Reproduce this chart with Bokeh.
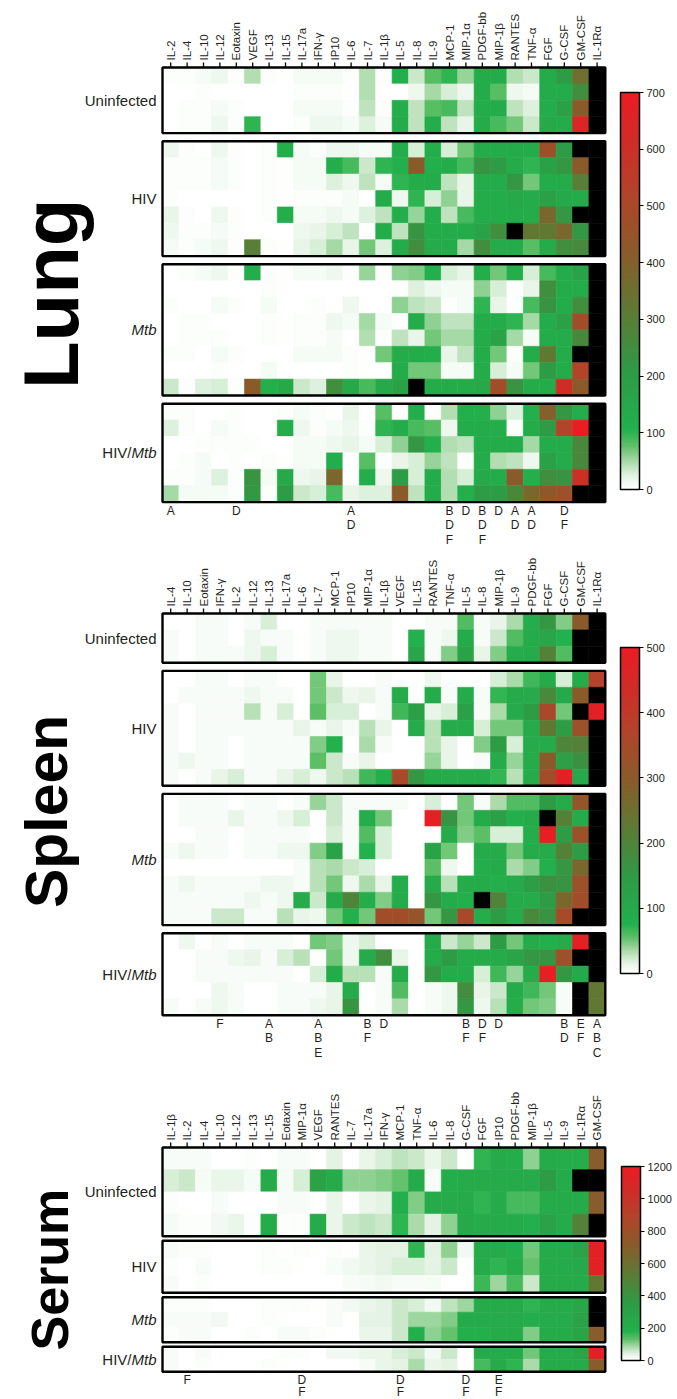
import math
from bokeh.plotting import figure
from bokeh.models import ColumnDataSource, LinearColorMapper, ColorBar, FixedTicker, Range1d
from bokeh.core.properties import value
from bokeh.embed import file_html
from bokeh.resources import INLINE
from bokeh.transform import transform

# ============================ DATA ============================
GROUP_NAMES = ["Uninfected", "HIV", "Mtb", "HIV/Mtb"]

# ---------------- Lung (scale 0-700, black = above scale) ----------------
LUNG_COLS = ["IL-2", "IL-4", "IL-10", "IL-12", "Eotaxin", "VEGF", "IL-13", "IL-15", "IL-17a",
             "IFN-γ", "IP10", "IL-6", "IL-7", "IL-1β", "IL-5", "IL-8", "IL-9", "MCP-1", "MIP-1α",
             "PDGF-bb", "MIP-1β", "RANTES", "TNF-α", "FGF", "G-CSF", "GM-CSF", "IL-1Rα"]
LUNG_MAX = 700
LUNG_TICKS = [0, 100, 200, 300, 400, 500, 600, 700]
LUNG_UNINF = [
    [5, 5, 10, 15, 5, 45, 5, 0, 10, 10, 10, 5, 45, 5, 110, 35, 80, 100, 55, 130, 130, 45, 35, 130, 200, 350, 800],
    [0, 0, 5, 0, 0, 0, 0, 0, 5, 5, 5, 0, 45, 0, 0, 15, 50, 30, 15, 130, 80, 15, 10, 130, 130, 250, 800],
    [0, 5, 5, 10, 5, 0, 0, 0, 10, 10, 10, 5, 40, 5, 120, 40, 80, 90, 40, 130, 130, 40, 25, 130, 180, 420, 800],
    [0, 5, 5, 15, 5, 100, 0, 0, 5, 15, 15, 10, 25, 10, 130, 40, 120, 40, 20, 130, 90, 70, 35, 150, 130, 650, 800],
]
LUNG_HIV = [
    [15, 5, 0, 15, 5, 0, 5, 120, 10, 5, 15, 15, 10, 10, 120, 30, 120, 30, 70, 130, 130, 130, 130, 470, 200, 800, 800],
    [5, 5, 5, 10, 5, 0, 5, 0, 10, 10, 120, 90, 35, 100, 110, 420, 110, 130, 90, 230, 200, 130, 100, 180, 220, 420, 800],
    [5, 5, 5, 10, 5, 0, 5, 0, 10, 10, 25, 15, 40, 10, 100, 130, 130, 40, 20, 130, 130, 220, 70, 130, 130, 300, 800],
    [5, 0, 0, 0, 0, 0, 5, 0, 5, 5, 5, 10, 0, 130, 15, 100, 30, 60, 20, 130, 130, 150, 130, 180, 140, 130, 800],
    [20, 5, 0, 15, 5, 0, 5, 120, 10, 10, 15, 10, 25, 40, 120, 55, 120, 40, 90, 130, 130, 130, 130, 380, 220, 800, 800],
    [15, 5, 5, 10, 5, 0, 0, 0, 15, 20, 30, 40, 0, 130, 40, 230, 130, 130, 130, 170, 250, 800, 320, 320, 380, 220, 800],
    [10, 5, 10, 15, 5, 300, 5, 0, 20, 30, 50, 20, 70, 25, 130, 250, 130, 130, 50, 250, 130, 130, 80, 130, 250, 260, 800],
]
LUNG_MTB = [
    [0, 5, 10, 15, 5, 120, 5, 0, 10, 10, 15, 5, 55, 5, 60, 65, 110, 30, 20, 120, 70, 120, 30, 90, 130, 170, 800],
    [0, 0, 0, 0, 0, 0, 5, 0, 0, 0, 0, 0, 0, 0, 5, 25, 15, 10, 10, 60, 30, 5, 20, 250, 130, 130, 800],
    [5, 0, 0, 10, 5, 0, 10, 0, 0, 5, 0, 15, 0, 0, 60, 40, 35, 5, 10, 100, 20, 5, 90, 230, 130, 250, 800],
    [0, 5, 5, 0, 0, 0, 5, 0, 5, 5, 15, 10, 50, 10, 0, 130, 60, 40, 40, 130, 130, 100, 50, 130, 180, 480, 800],
    [0, 5, 5, 5, 0, 0, 5, 0, 5, 5, 10, 0, 45, 5, 40, 20, 70, 50, 50, 130, 170, 50, 10, 130, 130, 270, 800],
    [5, 5, 0, 10, 5, 0, 0, 0, 10, 10, 10, 5, 0, 70, 130, 130, 120, 20, 40, 130, 70, 5, 130, 320, 130, 800, 800],
    [0, 0, 0, 5, 0, 0, 10, 0, 0, 0, 0, 5, 0, 0, 130, 70, 70, 10, 10, 130, 30, 10, 70, 200, 130, 520, 800],
    [35, 5, 25, 30, 5, 420, 110, 150, 35, 25, 250, 140, 90, 140, 180, 800, 130, 130, 130, 150, 480, 230, 130, 130, 620, 420, 800],
]
LUNG_HIVMTB = [
    [5, 5, 0, 0, 5, 0, 0, 5, 10, 5, 0, 20, 0, 80, 0, 120, 0, 45, 110, 110, 60, 25, 110, 400, 220, 120, 800],
    [25, 5, 0, 10, 5, 0, 0, 120, 15, 5, 10, 15, 5, 100, 130, 90, 80, 15, 130, 130, 120, 5, 130, 200, 520, 700, 800],
    [0, 0, 5, 5, 5, 5, 0, 0, 10, 10, 15, 20, 10, 30, 60, 220, 110, 45, 40, 130, 130, 130, 50, 130, 130, 270, 800],
    [0, 5, 10, 0, 5, 0, 5, 0, 10, 10, 120, 0, 80, 5, 20, 30, 55, 40, 5, 130, 45, 40, 15, 180, 130, 270, 800],
    [5, 5, 10, 25, 5, 230, 10, 150, 15, 20, 380, 0, 120, 15, 200, 30, 130, 45, 30, 140, 130, 420, 110, 250, 230, 600, 800],
    [50, 10, 10, 10, 5, 220, 5, 200, 35, 30, 90, 20, 25, 25, 420, 40, 130, 45, 110, 200, 200, 270, 380, 430, 460, 800, 800],
]
LUNG_LETTERS = {"IL-2": "A", "Eotaxin": "D", "IL-6": "AD", "MCP-1": "BDF", "MIP-1α": "D",
                "PDGF-bb": "BDF", "MIP-1β": "D", "RANTES": "AD", "TNF-α": "AD", "G-CSF": "DF"}

# ---------------- Spleen (scale 0-500) ----------------
SPLEEN_COLS = ["IL-4", "IL-10", "Eotaxin", "IFN-γ", "IL-2", "IL-12", "IL-13", "IL-17a", "IL-6",
               "IL-7", "MCP-1", "IP10", "MIP-1α", "IL-1β", "VEGF", "IL-15", "RANTES", "TNF-α",
               "IL-5", "IL-8", "MIP-1β", "IL-9", "PDGF-bb", "FGF", "G-CSF", "GM-CSF", "IL-1Rα"]
SPLEEN_MAX = 500
SPLEEN_TICKS = [0, 100, 200, 300, 400, 500]
SPLEEN_UNINF = [
    [0, 0, 5, 5, 0, 5, 20, 0, 0, 5, 5, 5, 5, 5, 0, 0, 5, 5, 60, 5, 15, 35, 90, 160, 45, 300, 600],
    [5, 0, 5, 5, 0, 10, 5, 5, 0, 5, 10, 10, 5, 5, 0, 75, 5, 10, 95, 5, 25, 60, 95, 110, 75, 600, 600],
    [5, 0, 5, 5, 5, 10, 20, 5, 0, 5, 10, 10, 5, 5, 0, 110, 5, 45, 125, 15, 45, 90, 95, 210, 60, 600, 600],
]
SPLEEN_HIV = [
    [0, 0, 5, 5, 0, 5, 5, 0, 0, 50, 15, 0, 0, 5, 0, 0, 10, 0, 0, 0, 20, 35, 65, 95, 20, 95, 370],
    [0, 5, 5, 5, 5, 10, 5, 5, 0, 50, 25, 10, 15, 5, 95, 0, 95, 5, 95, 5, 70, 95, 95, 190, 100, 300, 600],
    [5, 0, 5, 5, 5, 30, 5, 20, 0, 55, 20, 20, 0, 5, 65, 130, 15, 20, 130, 5, 35, 95, 145, 360, 50, 600, 480],
    [5, 0, 5, 5, 5, 5, 5, 5, 15, 5, 15, 5, 30, 15, 0, 95, 30, 95, 95, 20, 50, 50, 95, 230, 145, 330, 600],
    [5, 0, 5, 5, 0, 5, 5, 5, 5, 45, 75, 0, 35, 5, 0, 0, 30, 15, 0, 45, 145, 20, 95, 95, 200, 210, 600],
    [5, 10, 5, 5, 0, 5, 5, 5, 5, 55, 25, 5, 15, 0, 0, 0, 40, 15, 0, 5, 95, 40, 95, 300, 130, 170, 600],
    [5, 0, 5, 15, 20, 5, 5, 15, 20, 10, 25, 30, 65, 80, 360, 160, 95, 95, 95, 95, 70, 30, 95, 340, 480, 100, 600],
]
SPLEEN_MTB = [
    [0, 5, 5, 5, 0, 5, 5, 0, 5, 40, 25, 5, 5, 5, 5, 0, 20, 0, 50, 5, 35, 60, 60, 145, 95, 320, 600],
    [0, 5, 5, 5, 15, 5, 5, 10, 20, 0, 25, 5, 90, 50, 0, 0, 490, 165, 50, 95, 130, 80, 95, 600, 210, 95, 600],
    [0, 0, 5, 5, 0, 5, 5, 5, 5, 0, 20, 5, 60, 20, 0, 0, 0, 95, 45, 55, 20, 20, 90, 490, 145, 330, 600],
    [5, 10, 5, 5, 0, 5, 5, 10, 10, 45, 120, 5, 75, 20, 0, 0, 120, 50, 0, 95, 95, 50, 95, 95, 210, 145, 600],
    [0, 0, 0, 0, 0, 0, 0, 0, 5, 30, 35, 25, 20, 0, 0, 0, 55, 10, 0, 85, 95, 35, 45, 80, 160, 270, 600],
    [5, 10, 5, 5, 5, 5, 10, 10, 5, 30, 50, 10, 35, 15, 90, 0, 95, 30, 95, 95, 80, 95, 140, 170, 165, 330, 600],
    [5, 5, 5, 5, 5, 10, 5, 10, 95, 25, 95, 200, 90, 45, 95, 0, 160, 95, 80, 600, 200, 95, 95, 145, 270, 340, 600],
    [5, 5, 5, 25, 25, 5, 5, 30, 15, 10, 50, 75, 50, 340, 340, 320, 50, 160, 360, 90, 145, 95, 190, 165, 350, 600, 600],
]
SPLEEN_HIVMTB = [
    [0, 10, 0, 5, 0, 5, 5, 5, 0, 50, 45, 10, 20, 0, 0, 0, 95, 25, 40, 25, 145, 50, 95, 80, 95, 480, 600],
    [0, 0, 5, 5, 10, 15, 5, 20, 30, 0, 50, 10, 95, 180, 15, 0, 95, 145, 95, 95, 95, 115, 160, 165, 330, 600, 600],
    [0, 0, 5, 5, 5, 5, 5, 5, 0, 20, 95, 30, 30, 5, 95, 0, 160, 95, 95, 20, 65, 40, 95, 490, 160, 100, 600],
    [0, 0, 0, 10, 5, 0, 0, 5, 5, 5, 15, 95, 0, 5, 60, 0, 5, 10, 180, 15, 25, 95, 65, 50, 5, 600, 230],
    [5, 0, 5, 10, 5, 0, 0, 5, 5, 10, 15, 165, 0, 5, 35, 0, 5, 10, 160, 10, 30, 90, 50, 45, 5, 600, 230],
]
SPLEEN_LETTERS = {"IFN-γ": "F", "IL-13": "AB", "IL-7": "ABE", "MIP-1α": "BF", "IL-1β": "D",
                  "IL-5": "BF", "IL-8": "DF", "MIP-1β": "D", "G-CSF": "BD", "GM-CSF": "EF",
                  "IL-1Rα": "ABC"}

# ---------------- Serum (scale 0-1200) ----------------
SERUM_COLS = ["IL-1β", "IL-2", "IL-4", "IL-10", "IL-12", "IL-13", "IL-15", "Eotaxin", "MIP-1α",
              "VEGF", "RANTES", "IL-7", "IL-17a", "IFN-γ", "MCP-1", "TNF-α", "IL-6", "IL-8",
              "G-CSF", "FGF", "IP10", "PDGF-bb", "MIP-1β", "IL-5", "IL-9", "IL-1Rα", "GM-CSF"]
SERUM_MAX = 1200
SERUM_TICKS = [0, 200, 400, 600, 800, 1000, 1200]
SERUM_UNINF = [
    [10, 10, 10, 0, 0, 5, 0, 10, 10, 0, 40, 0, 30, 50, 70, 60, 30, 60, 0, 170, 230, 210, 100, 230, 220, 220, 700],
    [50, 60, 15, 30, 30, 15, 230, 15, 50, 300, 230, 100, 100, 110, 130, 230, 10, 210, 230, 230, 230, 230, 230, 350, 230, 1500, 1500],
    [5, 0, 0, 10, 0, 0, 0, 10, 10, 0, 30, 0, 30, 40, 200, 110, 230, 230, 230, 170, 230, 150, 150, 230, 230, 230, 700],
    [15, 5, 5, 20, 30, 5, 230, 5, 5, 230, 30, 60, 70, 60, 170, 80, 40, 100, 250, 230, 230, 230, 200, 300, 230, 500, 1500],
]
SERUM_HIV = [
    [10, 5, 5, 0, 0, 0, 5, 0, 5, 0, 5, 0, 30, 40, 40, 170, 40, 100, 20, 230, 230, 200, 120, 230, 230, 280, 1150],
    [5, 0, 10, 0, 0, 0, 5, 5, 0, 0, 10, 20, 30, 40, 50, 50, 40, 60, 0, 230, 170, 230, 130, 230, 230, 240, 1150],
    [10, 0, 5, 0, 0, 0, 0, 0, 0, 0, 0, 10, 15, 20, 10, 10, 15, 0, 0, 160, 90, 150, 60, 230, 230, 230, 550],
]
SERUM_MTB = [
    [5, 5, 5, 0, 0, 0, 5, 5, 5, 0, 10, 20, 30, 40, 60, 50, 20, 70, 90, 230, 230, 230, 170, 230, 230, 260, 1500],
    [10, 10, 10, 20, 0, 0, 5, 0, 0, 0, 10, 0, 40, 40, 60, 90, 90, 110, 230, 230, 230, 230, 210, 230, 230, 300, 1500],
    [5, 10, 10, 0, 0, 5, 0, 10, 10, 5, 0, 0, 30, 30, 60, 200, 100, 130, 200, 200, 230, 230, 110, 230, 230, 280, 700],
]
SERUM_HIVMTB = [
    [10, 0, 10, 0, 0, 0, 0, 5, 5, 0, 20, 20, 30, 30, 50, 60, 20, 60, 0, 230, 230, 230, 120, 230, 230, 280, 1150],
    [10, 0, 5, 0, 0, 0, 5, 0, 0, 0, 0, 0, 10, 30, 40, 80, 30, 40, 0, 150, 230, 170, 80, 230, 230, 230, 700],
]
SERUM_LETTERS = {"IL-2": "F", "MIP-1α": "DF", "MCP-1": "DF", "G-CSF": "DF", "IP10": "EF"}

# ============================ STYLE / LAYOUT ============================
FONT = "Liberation Sans"
TXT = "#231f20"
COLW = 16.4                    # column width in px
W, H = 677, 1399
HEAT_LEFT = 162                # page px of heatmap left edge

ANCHORS = [(0.00, "#ffffff"), (0.03, "#e6f4e6"), (0.07, "#a6d9a6"), (0.11, "#5cbf66"),
           (0.15, "#22b14c"), (0.30, "#2f9a45"), (0.45, "#5e7a34"), (0.60, "#8b5a2a"),
           (0.75, "#b3432a"), (0.88, "#d02c27"), (1.00, "#ec1c24")]


def hex2rgb(h):
    return tuple(int(h[i:i + 2], 16) for i in (1, 3, 5))


def build_palette(n=256):
    pal = []
    for k in range(n):
        t = k / (n - 1)
        for (t0, c0), (t1, c1) in zip(ANCHORS[:-1], ANCHORS[1:]):
            if t0 <= t <= t1:
                f = (t - t0) / (t1 - t0)
                a, b = hex2rgb(c0), hex2rgb(c1)
                pal.append("#%02x%02x%02x" % tuple(round(a[j] + (b[j] - a[j]) * f) for j in range(3)))
                break
    return pal


PALETTE = build_palette()


def ref_x(u):  # page px -> column units
    return (u - HEAT_LEFT) / COLW


x_start = ref_x(0)
p = figure(width=W, height=H, x_range=Range1d(x_start, x_start + W / COLW),
           y_range=Range1d(H, 0),
           output_backend="svg", toolbar_location=None, min_border=0,
           x_axis_location=None, y_axis_location=None)
p.grid.visible = False
p.outline_line_color = None

PANELS = [
    dict(name="Lung", cols=LUNG_COLS, groups=[LUNG_UNINF, LUNG_HIV, LUNG_MTB, LUNG_HIVMTB],
         vmax=LUNG_MAX, ticks=LUNG_TICKS, letters=LUNG_LETTERS, top=67,
         rowh=[16.4, 16.4, 16.4, 16.4], gap=8.2, lsp=14.5,
         bar=(620, 92, 489), big=78, big_x=50, big_dy=9),
    dict(name="Spleen", cols=SPLEEN_COLS, groups=[SPLEEN_UNINF, SPLEEN_HIV, SPLEEN_MTB, SPLEEN_HIVMTB],
         vmax=SPLEEN_MAX, ticks=SPLEEN_TICKS, letters=SPLEEN_LETTERS, top=613,
         rowh=[16.4, 16.4, 16.4, 16.4], gap=8.2, lsp=14.5,
         bar=(620, 647, 973), big=59, big_x=46, big_dy=-3),
    dict(name="Serum", cols=SERUM_COLS, groups=[SERUM_UNINF, SERUM_HIV, SERUM_MTB, SERUM_HIVMTB],
         vmax=SERUM_MAX, ticks=SERUM_TICKS, letters=SERUM_LETTERS, top=1147,
         rowh=[22.2, 17.3, 15.0, 12.5], gap=4.5, lsp=12,
         bar=(621, 1166, 1360), big=52, big_x=49, big_dy=10),
]

LAB_PX = 15
MTB_W = 25.0  # px width of italic "Mtb" at the group label size

for pan in PANELS:
    ncol = len(pan["cols"])
    mapper = LinearColorMapper(palette=PALETTE, low=0, high=pan["vmax"], high_color="black")
    top = pan["top"]
    cx, cy, ch, cv = [], [], [], []
    boxes_x, boxes_y, boxes_h = [], [], []
    lab_y = []
    y = top
    for g, rh in zip(pan["groups"], pan["rowh"]):
        for r, row in enumerate(g):
            for i, val in enumerate(row):
                cx.append(i + 0.5)
                cy.append(y + (r + 0.5) * rh)
                ch.append(rh)
                cv.append(val)
        gh = len(g) * rh
        boxes_x.append(ncol / 2)
        boxes_y.append(y + gh / 2)
        boxes_h.append(gh)
        lab_y.append(y + gh / 2)
        y += gh + pan["gap"]
    bottom = y - pan["gap"]

    src = ColumnDataSource(dict(x=cx, y=cy, h=ch, v=cv))
    p.rect("x", "y", width=1, height="h", source=src,
           fill_color=transform("v", mapper), line_color=transform("v", mapper), line_width=0.6)
    p.rect(boxes_x, boxes_y, width=ncol, height=boxes_h, fill_color=None,
           line_color="black", line_width=2.4)

    # column ticks & labels
    xs = [i + 0.5 for i in range(ncol)]
    p.segment(x0=xs, y0=[top - 5] * ncol, x1=xs, y1=[top] * ncol,
              line_color="black", line_width=1.3)
    p.text(x=xs, y=[top - 7] * ncol, text=pan["cols"], angle=math.pi / 2,
           text_align="left", text_baseline="middle", text_font=value(FONT),
           text_font_size="11.5px", text_color=TXT)

    # group labels
    lx = ref_x(156)
    p.text(x=[lx, lx], y=[lab_y[0], lab_y[1]], text=[GROUP_NAMES[0], GROUP_NAMES[1]],
           text_align="right", text_baseline="middle", text_font=value(FONT),
           text_font_size=f"{LAB_PX}px", text_color=TXT)
    p.text(x=[lx, lx], y=[lab_y[2], lab_y[3]], text=["Mtb", "Mtb"],
           text_align="right", text_baseline="middle", text_font=value(FONT),
           text_font_size=f"{LAB_PX}px", text_font_style="italic", text_color=TXT)
    p.text(x=[lx], y=[lab_y[3]], text=["HIV/"], x_offset=-MTB_W,
           text_align="right", text_baseline="middle", text_font=value(FONT),
           text_font_size=f"{LAB_PX}px", text_color=TXT)

    # significance letters
    lxs, lys, lts = [], [], []
    for name, s in pan["letters"].items():
        i = pan["cols"].index(name)
        for k, chr_ in enumerate(s):
            lxs.append(i + 0.5)
            lys.append(bottom + 8.5 + pan["lsp"] * k)
            lts.append(chr_)
    p.text(x=lxs, y=lys, text=lts, text_align="center", text_baseline="middle",
           text_font=value(FONT), text_font_size="12px", text_color=TXT)

    # big panel label
    p.text(x=[ref_x(pan["big_x"])], y=[(top + bottom) / 2 + pan["big_dy"]], text=[pan["name"]],
           angle=math.pi / 2, text_align="center", text_baseline="alphabetic",
           text_font=value(FONT), text_font_style="bold",
           text_font_size=f"{pan['big']}px", text_color="black")

    # colour bar
    bx, btop, bbot = pan["bar"]
    cb = ColorBar(color_mapper=mapper, ticker=FixedTicker(ticks=pan["ticks"]),
                  location=(bx, H - bbot), height=bbot - btop, width=19,
                  padding=0, margin=0, bar_line_color="black", bar_line_width=1.5,
                  major_tick_line_color="black", major_tick_in=0, major_tick_out=4,
                  minor_tick_line_color=None, label_standoff=3,
                  major_label_text_font=FONT, major_label_text_font_size="11px",
                  major_label_text_color=TXT, background_fill_color=None,
                  border_line_color=None)
    p.add_layout(cb)

open("out.html", "w").write(file_html(p, INLINE))
